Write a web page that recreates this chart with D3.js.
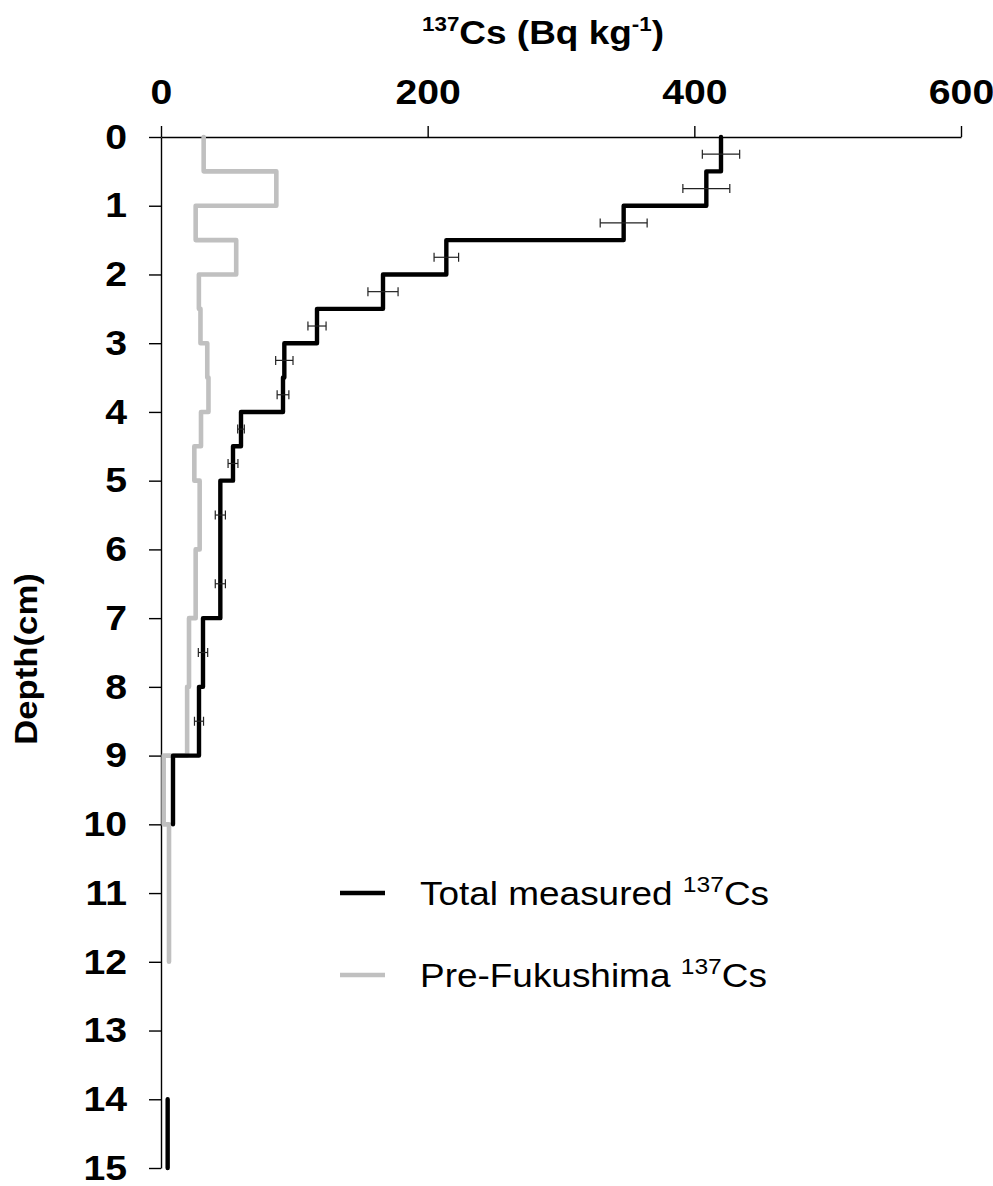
<!DOCTYPE html>
<html>
<head>
<meta charset="utf-8">
<script src="https://d3js.org/d3.v7.min.js"></script>
<style>
  body { margin: 0; background: #fff; }
  text { font-family: "Liberation Sans", Arial, sans-serif; }
</style>
</head>
<body>
<div id="chart"></div>
<script>
// depth intervals (cm) and 137Cs values (Bq/kg)
var totalTop    = [0, 0.5, 1, 1.5, 2, 2.5, 3, 3.5, 4, 4.5, 5, 6, 7, 8, 9, 14]
var totalBottom = [0.5, 1, 1.5, 2, 2.5, 3, 3.5, 4, 4.5, 5, 6, 7, 8, 9, 10, 15]
var totalValues = [420, 409, 347, 214, 166.5, 117, 92.5, 91.5, 60, 54, 44.5, 44.5, 31.5, 28.5, 9, 5]
var totalErr    = [14, 17.6, 17.6, 9.2, 11.3, 6.8, 6.5, 4.4, 2.5, 3.7, 3.8, 3.8, 3.5, 3.4, null, null]

var preTop    = [0, 0.5, 1, 1.5, 2, 2.5, 3, 3.5, 4, 4.5, 5, 6, 7, 8, 9, 10]
var preBottom = [0.5, 1, 1.5, 2, 2.5, 3, 3.5, 4, 4.5, 5, 6, 7, 8, 9, 10, 12]
var preValues = [32, 86.5, 26, 56.4, 28.4, 29.6, 34.7, 35.6, 30, 25, 29, 26, 21, 19.6, 2, 6]

var xTicks = [0, 200, 400, 600]
var yTicks = d3.range(0, 16)

var W = 993, H = 1186
var margin = {left: 161, top: 137, right: 32, bottom: 18}
var SX = 1.12 // the picture's text is a bit wide

var svg = d3.select('#chart').append('svg')
    .attr('width', W).attr('height', H)

var x = d3.scaleLinear().domain([0, 600]).range([margin.left, W - margin.right])
var y = d3.scaleLinear().domain([0, 15]).range([margin.top, H - margin.bottom])

// axes
var xAxis = svg.append('g')
    .attr('transform', 'translate(0,' + margin.top + ')')
    .call(d3.axisTop(x).tickValues(xTicks).tickSize(11).tickPadding(22).tickSizeOuter(0))
var yAxis = svg.append('g')
    .attr('transform', 'translate(' + margin.left + ',0)')
    .call(d3.axisLeft(y).tickValues(yTicks).tickSize(12).tickPadding(22).tickSizeOuter(0))

svg.selectAll('.domain, .tick line').attr('stroke', '#000').attr('stroke-width', 1.4)
xAxis.selectAll('text')
    .attr('font-size', 35).attr('font-weight', 'bold').attr('fill', '#000')
    .attr('font-family', '"Liberation Sans", Arial, sans-serif')
    .attr('transform', 'scale(' + SX + ',1)')
yAxis.selectAll('text')
    .attr('font-size', 35).attr('font-weight', 'bold').attr('fill', '#000')
    .attr('font-family', '"Liberation Sans", Arial, sans-serif')
    .attr('x', null)
    .attr('transform', 'translate(-34,0) scale(' + SX + ',1)')

// step profile: each interval is a vertical segment, gaps break the line
function steps(tops, bottoms, vals) {
    var pts = []
    for (var i = 0; i < vals.length; i++) {
        if (i > 0 && tops[i] != bottoms[i - 1]) pts.push(null)
        pts.push([vals[i], tops[i]], [vals[i], bottoms[i]])
    }
    return pts
}

var line = d3.line()
    .defined(function(d) { return d != null })
    .x(function(d) { return x(d[0]) })
    .y(function(d) { return y(d[1]) })

svg.append('path')
    .attr('d', line(steps(preTop, preBottom, preValues)))
    .attr('fill', 'none').attr('stroke', '#c0c0c0').attr('stroke-width', 4.6)
    .attr('stroke-linejoin', 'round').attr('stroke-linecap', 'round')

svg.append('path')
    .attr('d', line(steps(totalTop, totalBottom, totalValues)))
    .attr('fill', 'none').attr('stroke', '#000').attr('stroke-width', 4.4)
    .attr('stroke-linejoin', 'round').attr('stroke-linecap', 'round')

// error bars at mid-depth of each interval
var errData = totalValues.map(function(v, i) {
    return {v: v, e: totalErr[i], d: (totalTop[i] + totalBottom[i]) / 2}
}).filter(function(d) { return d.e != null })

var eb = svg.selectAll('g.err').data(errData).enter().append('g').attr('class', 'err')
    .attr('stroke', '#222').attr('stroke-width', 1.2)
eb.append('line')
    .attr('x1', function(d) { return x(d.v - d.e) }).attr('x2', function(d) { return x(d.v + d.e) })
    .attr('y1', function(d) { return y(d.d) }).attr('y2', function(d) { return y(d.d) })
eb.selectAll('line.cap').data(function(d) { return [[d.v - d.e, d.d], [d.v + d.e, d.d]] })
    .enter().append('line').attr('class', 'cap')
    .attr('x1', function(d) { return x(d[0]) }).attr('x2', function(d) { return x(d[0]) })
    .attr('y1', function(d) { return y(d[1]) - 4.5 }).attr('y2', function(d) { return y(d[1]) + 4.5 })

// text helper with superscripts: parts = [[text, isSuper], ...]
function label(px, py, parts, size, supSize, weight, anchor, rotate) {
    var t = svg.append('text')
        .attr('transform', 'translate(' + px + ',' + py + ')' + (rotate ? ' rotate(-90)' : '') + ' scale(' + SX + ',1)')
        .attr('font-size', size).attr('font-weight', weight).attr('text-anchor', anchor).attr('fill', '#000')
    var up = false
    parts.forEach(function(p) {
        var s = t.append('tspan').text(p[0])
        if (p[1]) { s.attr('font-size', supSize); if (!up) s.attr('dy', -size * 0.38); up = true }
        else if (up) { s.attr('dy', size * 0.38); up = false }
    })
    return t
}

label(543, 44, [['137', true], ['Cs (Bq kg', false], ['-1', true], [')', false]], 33, 20, 'bold', 'middle')
label(37, 659, [['Depth(cm)', false]], 31, 18, 'bold', 'middle', true)

// legend
var legendNames = [[['Total measured ', false], ['137', true], ['Cs', false]],
                   [['Pre-Fukushima ', false], ['137', true], ['Cs', false]]]
var legendColors = ['#000', '#c0c0c0']
var legendY = [893, 975]
legendNames.forEach(function(n, i) {
    svg.append('line')
        .attr('x1', 340).attr('x2', 385).attr('y1', legendY[i]).attr('y2', legendY[i])
        .attr('stroke', legendColors[i]).attr('stroke-width', 4.5)
    label(420, legendY[i] + 12, n, 33, 22, 'normal', 'start')
})
</script>
</body>
</html>
